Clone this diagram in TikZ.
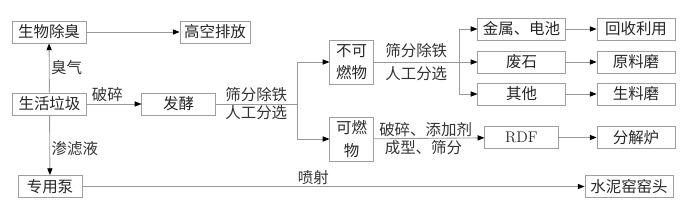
\documentclass[tikz,border=0pt]{standalone}
\usepackage{fontspec}
\newfontfamily\cjk{Noto Sans CJK SC}
\usepackage{xcolor}
\usetikzlibrary{positioning,arrows.meta}

\begin{document}
\begin{tikzpicture}[x=0.025cm,y=-0.025cm,
 box/.style={draw=gray!75,line width=0.6pt,inner sep=1pt,minimum height=0.55cm,text=black!85,font=\cjk\fontsize{11}{13}\selectfont},
 tall/.style={box,align=center,minimum width=1.08cm,minimum height=1.1cm,font=\cjk\fontsize{11}{16}\selectfont},
 lbl/.style={text=black!80,inner sep=1pt,font=\cjk\fontsize{11}{13}\selectfont},
 line/.style={gray!80,line width=0.6pt},
 arr/.style={line,-{Triangle[length=1.7mm,width=1.3mm,color=black]}}]
\useasboundingbox (0,0) rectangle (692,207);
% left column
\node[box,minimum width=1.85cm] (bio) at (49,32) {生物除臭};
\node[box,minimum width=1.75cm] (gaokong) at (215,32) {高空排放};
\node[box,minimum width=1.83cm] (laji) at (49.5,104) {生活垃圾};
\node[box,minimum width=1.83cm] (fajiao) at (178.5,104) {发酵};
\node[box,minimum width=1.6cm] (beng) at (50,186.5) {专用泵};
% sorting
\node[tall] (buke) at (351.5,62) {不可\\燃物};
\node[tall] (ke) at (351.5,139) {可燃\\物};
\node[box,minimum width=2.18cm] (jinshu) at (521.5,29) {金属、电池};
\node[box,minimum width=2.18cm] (feishi) at (521.5,62) {废石};
\node[box,minimum width=2.18cm] (qita) at (521.5,94) {其他};
\node[box,minimum width=1.83cm,font=\fontsize{11}{13}\selectfont] (rdf) at (521.5,137.5) {RDF};
% right column
\node[box,minimum width=1.95cm] (huishou) at (636,29) {回收利用};
\node[box,minimum width=1.95cm] (yuanliao) at (636,62) {原料磨};
\node[box,minimum width=1.95cm] (shengliao) at (636,94) {生料磨};
\node[box,minimum width=1.95cm] (fenjie) at (636,137.5) {分解炉};
\node[box,minimum width=2.2cm] (shuini) at (629,186.5) {水泥窑窑头};
\coordinate (sp1) at (297,104);
\coordinate (sp2) at (459,62);
% connectors
\draw[arr] (laji) -- node[lbl,right]{臭气} (bio);
\draw[arr] (bio) -- (gaokong);
\draw[arr] (laji) -- node[lbl,above,pos=0.38]{破碎} (fajiao);
\draw[line] (fajiao) -- node[lbl,above]{筛分除铁} node[lbl,below]{人工分选} (sp1);
\draw[arr] (sp1) |- (buke); \draw[arr] (sp1) |- (ke);
\draw[line] (buke) -- node[lbl,above=2pt]{筛分除铁} node[lbl,below=2pt]{人工分选} (sp2);
\draw[arr] (sp2) |- (jinshu); \draw[arr] (sp2) -- (feishi); \draw[arr] (sp2) |- (qita);
\draw[arr] (jinshu) -- (huishou); \draw[arr] (feishi) -- (yuanliao);
\draw[arr] (qita) -- (shengliao);
\draw[arr] (ke) -- node[lbl,above,pos=0.47]{破碎、添加剂} node[lbl,below,pos=0.45]{成型、筛分} (rdf);
\draw[arr] (rdf) -- (fenjie);
\draw[arr] (laji) -- node[lbl,right,pos=0.56]{渗滤液} (beng);
\draw[arr] (beng) -- node[lbl,above,pos=0.46]{喷射} (shuini);
\end{tikzpicture}
\end{document}
